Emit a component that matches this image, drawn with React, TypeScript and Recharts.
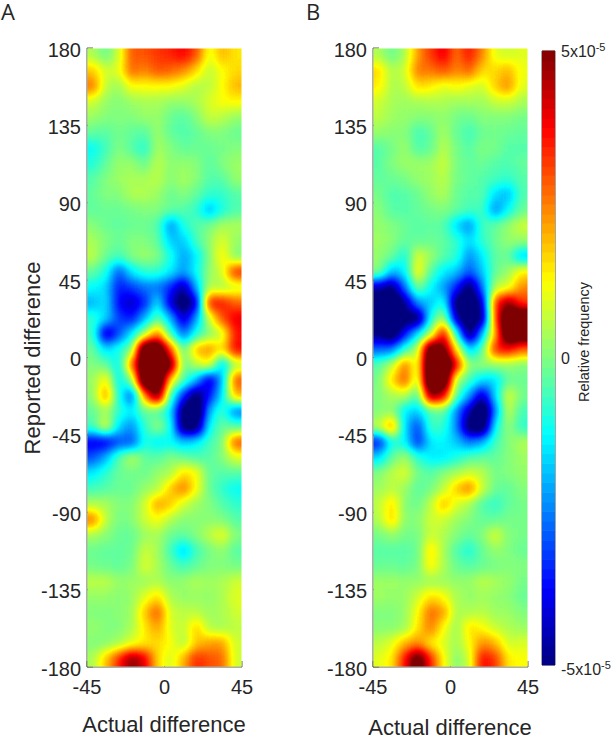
import React from 'react';
import { ScatterChart, Scatter, XAxis, YAxis, ReferenceArea, ReferenceLine } from 'recharts';

const actualCenters = [-41.25, -33.75, -26.25, -18.75, -11.25, -3.75, 3.75, 11.25, 18.75, 26.25, 33.75, 41.25];
const reportedCenters = [175.5, 166.5, 157.5, 148.5, 139.5, 130.5, 121.5, 112.5, 103.5, 94.5, 85.5, 76.5, 67.5, 58.5, 49.5, 40.5, 31.5, 22.5, 13.5, 4.5, -4.5, -13.5, -22.5, -31.5, -40.5, -49.5, -58.5, -67.5, -76.5, -85.5, -94.5, -103.5, -112.5, -121.5, -130.5, -139.5, -148.5, -157.5, -166.5, -175.5];
const xTicks = [-45, 0, 45];
const yTicks = [-180, -135, -90, -45, 0, 45, 90, 135, 180];
const barTicks = [-5, 0, 5];
const barLevels = [-4.92, -4.77, -4.61, -4.45, -4.3, -4.14, -3.98, -3.83, -3.67, -3.52, -3.36, -3.2, -3.05, -2.89, -2.73, -2.58, -2.42, -2.27, -2.11, -1.95, -1.8, -1.64, -1.48, -1.33, -1.17, -1.02, -0.86, -0.7, -0.55, -0.39, -0.23, -0.08, 0.08, 0.23, 0.39, 0.55, 0.7, 0.86, 1.02, 1.17, 1.33, 1.48, 1.64, 1.8, 1.95, 2.11, 2.27, 2.42, 2.58, 2.73, 2.89, 3.05, 3.2, 3.36, 3.52, 3.67, 3.83, 3.98, 4.14, 4.3, 4.45, 4.61, 4.77, 4.92];

const panelA = [
  [0.5, -0.2, 0.8, 2.9, 2.9, 3.2, 3.4, 3.8, 3.0, 1.0, 2.0, 1.5],
  [1.8, 0.8, 1.0, 2.8, 2.4, 3.0, 2.8, 2.4, 1.6, 0.6, 1.2, 1.6],
  [2.6, 0.6, 0.3, 1.2, 1.2, 1.2, 1.2, 0.9, 0.5, 0.6, 1.2, 2.0],
  [0.8, 0.2, 0, 0.3, 0.4, 0.4, 0.2, 0.2, 0.4, 0.9, 1.2, 1.3],
  [0.3, 0, 0, 0, 0.2, 0.3, -0.2, -0.4, 0, 0.7, 0.6, 0.2],
  [-0.3, -0.4, -0.1, -0.3, -0.4, 0.3, -0.3, -0.5, -0.3, 0, 0, -0.2],
  [-1.2, -0.6, 0, -0.4, -0.9, 0.4, 0, -0.3, -0.2, -0.2, -0.1, 0],
  [-0.9, -0.3, 0.3, 0.2, -0.2, 0.6, 0.1, 0.2, 0.1, -0.4, 0, 0.3],
  [-0.4, 0, 0.3, 0.4, 0.4, 0.6, 0, 0.4, 0.1, -0.4, -0.4, 0.2],
  [-0.3, 0, 0, 0.5, 0.5, 0.3, -0.2, 0, -0.3, -0.8, -0.8, -0.4],
  [-0.3, -0.2, -0.2, -0.1, 0, 0, -0.3, -0.4, -0.7, -2.0, -1.0, -0.5],
  [0.1, -0.2, -0.3, -0.2, -0.2, -0.4, -2.4, -1.0, -0.4, -0.1, 0.4, 0.4],
  [0.4, 0, -0.2, 0, 0, -0.3, -1.8, -1.8, -0.6, 0.2, 1.0, 0.2],
  [0.6, -0.2, -0.6, 0, 0.3, 0, -1.0, -2.2, -1.4, 0, 1.4, 0],
  [-0.3, -1.0, -3.0, -1.4, -0.8, -0.8, -1.4, -2.2, -1.2, 0.2, 0.8, 3.4],
  [-1.2, -1.6, -3.6, -3.2, -2.6, -2.6, -3.4, -4.8, -2.0, 0.6, 0.4, 0.8],
  [-2.0, -1.4, -3.8, -4.4, -3.4, -1.4, -4.2, -5.8, -4.2, 3.6, 3.6, 2.8],
  [-0.8, -1.6, -3.2, -3.6, -2.0, -0.3, -2.0, -4.4, -2.2, 0.8, 3.0, 4.0],
  [-0.6, -4.6, -3.0, -1.4, 0.5, 2.6, -0.6, -2.8, -1.0, 0, 0.8, 3.6],
  [-0.2, -1.6, -1.0, 0, 7, 7, 3, -0.4, 2.0, 2.4, 1.4, 3.8],
  [0, -0.2, -1.4, 2.6, 7, 7.5, 5.5, -0.2, 0.6, 1.2, -1.8, 0.5],
  [0.2, 1.5, -1.4, 0, 7, 7.5, 1.5, -0.4, -2.0, -4.4, -2.0, 3.0],
  [0.1, 2.4, -1.0, -3.0, 2.5, 5.5, -0.6, -3.4, -5.5, -3.6, -1.5, 2.0],
  [-0.3, 0.4, -0.8, -1.4, -0.2, -0.4, -1.4, -5.5, -6.5, -2.0, -0.6, -2.6],
  [-0.6, 1.0, -1.6, -2.4, -0.8, 0.2, -1.0, -5.5, -5.5, -1.2, -0.2, -0.4],
  [-4.0, -4.0, -3.0, -3.0, -1.0, -1.4, -1.2, -1.8, -1.4, -0.6, -0.1, 3.0],
  [-3.0, -2.0, -0.4, 0.6, -0.3, -0.4, 0, -0.2, -0.5, -0.4, 0, 0.9],
  [-1.4, -0.8, -0.2, -0.1, -0.2, 0.2, 0.4, 1.6, 1.2, -0.3, -0.4, -0.4],
  [-0.6, -0.4, -0.2, -0.2, 0.2, 0.5, 1.8, 2.6, 1.2, -0.2, -0.8, -1.2],
  [0.5, 0.4, 0, 0, 0.8, 2.2, 1.8, 0.8, 0.3, 0, -0.4, -0.8],
  [2.6, 0.6, -0.1, 0, 0.8, 1.2, 0.5, 0.1, 0.1, 0.1, 0, -0.4],
  [0.4, 0.1, -0.2, -0.3, 0.3, 0.4, -0.2, -0.3, 0, 0.6, 1.1, 0],
  [-0.2, -0.3, -0.3, -0.2, 0.8, 0.4, -0.6, -1.8, -0.6, -0.1, 0.2, -0.4],
  [-0.1, -0.2, -0.3, -0.1, 1.0, 0.4, -0.2, -0.6, -0.3, 0, 0, -0.1],
  [0.6, 0.6, 0.2, 0.3, 0.3, 0.5, 0.1, 0.2, 0.5, 0.3, 0.4, 0.8],
  [0.2, 0.2, 0.1, 0.2, 1.0, 1.6, 0.4, 0.2, 0.2, 0.2, 0.4, 1.0],
  [0, 0, 0.1, 0.3, 1.8, 3.0, 0.8, 0.6, 0.6, 0.3, 0.4, 0.8],
  [0.2, 0, 0, 0.4, 1.4, 2.2, 0.9, 0.6, 1.8, 0.5, 0.4, 0.6],
  [0, 0.1, 0.4, 1.0, 1.4, 1.6, 1.2, 0.5, 1.8, 2.2, 2.2, 0.8],
  [0.4, 1.8, 3.4, 5, 4.0, 1.6, 0.8, 2.0, 3.4, 3.0, 2.8, 0.8],
];

const panelB = [
  [0.5, -0.2, 0.4, 2.2, 3.2, 4.0, 2.6, 3.6, 2.4, 1.0, 0.8, 1.0],
  [1.6, 0.5, 0.8, 2.6, 2.6, 3, 2.4, 2.8, 1.6, 1.6, 2.0, 1.1],
  [1.4, 0.4, 0.6, 1.6, 1.4, 1.0, 1.2, 1.0, 0.7, 1.8, 2.4, 1.0],
  [0.8, 0.4, 0.3, 0.4, 0.5, 0.5, 0.3, 0.4, 0.3, 0.7, 0.8, 0.4],
  [0.6, 0.3, 0.2, 0.1, 0.1, 0.2, -0.1, -0.2, 0.1, 0, 0, -0.1],
  [0.2, 0.1, 0.1, -0.6, -0.3, 0.4, -0.3, -0.6, -0.2, -0.1, -0.2, -0.3],
  [-0.4, -0.1, 0.3, -0.5, -0.3, 0.6, -0.1, -0.4, 0, -0.1, -0.4, -0.4],
  [-0.4, 0, 0.3, 0.3, 0.3, 0.8, -0.1, -0.3, -0.2, -0.4, -0.5, -0.3],
  [-0.3, -0.2, -0.1, 0.2, 0.3, 0.6, -0.1, -0.3, -0.4, -0.6, -0.8, -0.4],
  [-0.1, -0.5, -0.4, -0.2, 0.2, 0.5, -0.2, -0.4, -0.4, -1.6, -2.0, -0.5],
  [0.1, -0.4, -0.4, -0.3, -0.1, 0, -0.3, -0.6, -0.6, -2.4, -1.2, -0.2],
  [0.2, 0, -0.2, -0.4, -0.3, -0.4, -1.6, -2.4, -0.6, -0.3, 0.2, 0.8],
  [0.3, 0.1, -0.3, -0.3, -0.2, -0.3, -0.8, -1.6, -0.8, -0.2, 0.2, 0.2],
  [0.2, -0.2, -1.1, 1.0, 0.3, -0.4, -0.8, -2.4, -1.4, -0.3, -0.2, -1.8],
  [0, -2.0, -1.4, 1.4, -0.4, -1.4, -1.8, -3, -1.8, -0.2, 0.2, 1.4],
  [-4.4, -5.2, -2.6, 0, -1.2, -2.2, -3.4, -5.5, -2.6, 0.6, 0.9, 2.4],
  [-6, -6.5, -4.8, -2.2, -1.8, -0.9, -5.5, -6, -4.4, 3.2, 5, 3.2],
  [-6.5, -6.5, -5.5, -5.5, -1.0, 0.6, -4.5, -6, -5.0, 3, 7, 7],
  [-5, -6, -3.6, -1.5, 0.4, 4.0, -1, -5.5, -2, 2, 7, 6.5],
  [-2.8, -2.6, -0.8, 0.6, 6.5, 5.5, 1.5, -1.8, -0.4, 3.5, 3.8, 2.8],
  [-0.4, 0.6, 2.6, 0.8, 7.5, 7.5, 3.8, 0, 0.2, 0.2, 0.2, 0],
  [-0.1, 1.6, 3.0, 0.4, 7.5, 7, 0.4, -0.6, -1.6, -1.6, -0.2, -0.2],
  [0, 0.4, 0.6, -0.6, 5, 4, -0.4, -2.2, -4.5, -1.6, 1.0, -0.1],
  [0, 0.2, -1.4, -1.8, -0.4, -0.2, -2.4, -4.5, -6.5, -2.4, 0.8, -0.6],
  [0.6, 2.4, -1.6, -3.2, -0.6, -0.8, -2.4, -5.5, -6, -1.2, 0.3, -0.8],
  [-3.6, -1.0, -1.2, -3.4, -1.4, -1.3, -1.8, -2.6, -2, -0.6, 0, 0.5],
  [-1.6, -0.3, 0.4, -0.8, -1.4, -1.4, -1.0, -0.4, -0.3, -0.3, 0, 0.3],
  [0, 0.6, 1.0, -0.1, -0.4, 0.1, 0.4, 0.8, 0.6, -0.1, 0, 0.2],
  [0.3, 0.6, 0.3, -0.4, -0.1, 0.6, 1.8, 2.6, 0.7, -0.2, -0.3, 0],
  [0.6, 1.6, 0.1, -0.2, 0.6, 2.0, 0.9, 0.4, -0.5, -0.8, -0.3, -0.1],
  [0.5, 1.8, 0.1, 0.1, 0.8, 0.8, 0.3, 0, -0.3, -0.3, -0.1, -0.1],
  [-0.1, 0.2, -0.1, -0.1, 0.8, 0.5, 0, -0.3, 0, 0.9, 0, -0.1],
  [-0.4, -0.4, -0.4, -0.2, 1.6, 0.4, -0.5, -1.0, -0.2, 0.2, 0, -0.2],
  [-0.2, -0.2, -0.3, -0.1, 1.4, 0.4, -0.2, -0.4, -0.2, -0.1, 0, 0],
  [0.3, 0.3, 0.2, 0.2, 0.3, 0.3, 0.2, 0.2, 0.6, 0.4, 0.2, -0.1],
  [0.3, 0.2, 0.2, 0.8, 1.6, 1.2, 0.4, 0.2, 0.3, 0.2, 0.1, -0.2],
  [0, 0, 0.2, 1.2, 2.8, 2.2, 0.4, 0.5, 0.6, 0.3, 0.3, 0],
  [0.1, 0.1, 0.3, 1.5, 2.6, 1.2, 0.2, 1.6, 1.2, 0.7, 0.5, 0.3],
  [0.6, 1.0, 2.0, 2.4, 1.4, 0.9, 0.3, 1.2, 2.4, 2.0, 0.8, 0.9],
  [1, 1.4, 3.6, 6, 3.4, 1.2, 0, 0.8, 3.8, 3.2, 1.4, 1.2],
];

const FONT = '"Liberation Sans", Arial, sans-serif';
const INK = '#262626';
const PLOT_W = 155;
const PLOT_H = 619;
const CELL_W = PLOT_W / 12;
const CELL_H = PLOT_H / 40;
const RANGE = 8; // grey encoding spans -RANGE..RANGE so the field may overshoot the ±5 colour limits

const clamp01 = (n: number) => Math.max(0, Math.min(1, n));
const jet = (v: number) => {
  const t = clamp01((v + 5) / 10);
  return [1.5 - Math.abs(4 * t - 3), 1.5 - Math.abs(4 * t - 2), 1.5 - Math.abs(4 * t - 1)].map(clamp01);
};
const grey = (v: number) => {
  const g = Math.round(((v + RANGE) / (2 * RANGE)) * 255);
  return `rgb(${g},${g},${g})`;
};
const tables = (() => {
  const r: string[] = [], g: string[] = [], b: string[] = [];
  for (let i = 0; i < 256; i++) {
    const c = jet((i / 255) * 2 * RANGE - RANGE);
    r.push(c[0].toFixed(4)); g.push(c[1].toFixed(4)); b.push(c[2].toFixed(4));
  }
  return { r: r.join(' '), g: g.join(' '), b: b.join(' ') };
})();

const cellsOf = (m: number[][]) =>
  m.flatMap((row, ri) => row.map((v, ci) => ({ actual: actualCenters[ci], reported: reportedCenters[ri], v, ci, ri })));

const HeatCell = (props: any) => {
  const { cx, cy, payload } = props;
  const { ci, ri, v } = payload;
  const pad = 30;
  const x0 = cx - CELL_W / 2 - (ci === 0 ? pad : 0) - 0.5;
  const x1 = cx + CELL_W / 2 + (ci === 11 ? pad : 0) + 0.5;
  const y0 = cy - CELL_H / 2 - (ri === 0 ? pad : 0) - 0.5;
  const y1 = cy + CELL_H / 2 + (ri === 39 ? pad : 0) + 0.5;
  return <rect x={x0} y={y0} width={x1 - x0} height={y1 - y0} fill={grey(v)} />;
};

const BarCell = (props: any) => {
  const { cx, cy, payload } = props;
  const c = jet(payload.v).map((n: number) => Math.round(n * 255));
  return <rect x={cx - 6.5} y={cy - 5.2} width={13} height={10.4} fill={`rgb(${c[0]},${c[1]},${c[2]})`} />;
};

const BarTick = (props: any) => {
  const { x, y, payload } = props;
  const val = payload.value;
  if (val === 0) return <text x={x - 3} y={y + 6} fontFamily={FONT} fontSize={16} fill={INK}>0</text>;
  const dy = val > 0 ? 6 : 10;
  return (
    <text x={x - 3} y={y + dy} fontFamily={FONT} fontSize={16} fill={INK}>
      {val > 0 ? '5x10' : '-5x10'}
      <tspan dy={-6} fontSize={11}>-5</tspan>
    </text>
  );
};

const Panel = ({ left, data, labelY, xLabelY }: { left: number; data: number[][]; labelY?: boolean; xLabelY: number }) => (
  <div style={{ position: 'absolute', left, top: 0 }} className="heat">
    <ScatterChart width={300} height={737} margin={{ top: 48, right: 58, bottom: 0, left: 0 }}>
      <XAxis
        type="number"
        dataKey="actual"
        domain={[-45, 45]}
        ticks={xTicks}
        interval={0}
        height={70}
        tickSize={-6}
        tickMargin={19}
        stroke="#5a5f55"
        tick={{ fontFamily: FONT, fontSize: 20, fill: INK }}
      />
      <YAxis
        type="number"
        dataKey="reported"
        domain={[-180, 180]}
        ticks={yTicks}
        interval={0}
        width={87}
        tickSize={-6}
        tickMargin={12}
        stroke="#5a5f55"
        tick={{ fontFamily: FONT, fontSize: 20, fill: INK, dy: 1.5 }}
      />
      <Scatter data={cellsOf(data)} shape={HeatCell} isAnimationActive={false} />
      <text x={164} y={xLabelY} textAnchor="middle" fontFamily={FONT} fontSize={22} fill={INK}>Actual difference</text>
      {labelY ? (
        <text transform="translate(40 358) rotate(-90)" textAnchor="middle" fontFamily={FONT} fontSize={22} fill={INK}>Reported difference</text>
      ) : null}
    </ScatterChart>
  </div>
);

const panelTitle = { position: 'absolute', top: 0, height: 24, lineHeight: '22px', fontFamily: '"Open Sans", sans-serif', fontSize: 22, color: INK } as const;

export default function App() {
  return (
    <div style={{ position: 'absolute', left: 0, top: 0, width: 616, height: 737, background: '#fff', overflow: 'hidden' }}>
      <style>{`.heat .recharts-scatter{filter:url(#jetField);clip-path:url(#plotWindow);}`}</style>
      <svg width={0} height={0} style={{ position: 'absolute' }}>
        <defs>
          <filter id="jetField" colorInterpolationFilters="sRGB" filterUnits="userSpaceOnUse" x={0} y={0} width={320} height={737}>
            <feGaussianBlur stdDeviation="5.2 6" />
            <feComponentTransfer>
              <feFuncR type="table" tableValues={tables.r} />
              <feFuncG type="table" tableValues={tables.g} />
              <feFuncB type="table" tableValues={tables.b} />
            </feComponentTransfer>
          </filter>
          <clipPath id="plotWindow" clipPathUnits="userSpaceOnUse">
            <rect x={87.5} y={48.5} width={154} height={618} />
          </clipPath>
        </defs>
      </svg>
      <Panel left={0} data={panelA} labelY xLabelY={732} />
      <Panel left={286} data={panelB} xLabelY={735} />
      <div style={{ position: 'absolute', left: 530, top: 0 }}>
        <ScatterChart width={86} height={737} margin={{ top: 51, right: 0, bottom: 72, left: 12 }}>
          <XAxis type="number" dataKey="b" domain={[0, 1]} hide />
          <YAxis
            type="number"
            dataKey="v"
            orientation="right"
            domain={[-5, 5]}
            ticks={barTicks}
            interval={0}
            width={61}
            tickLine={false}
            tickMargin={3}
            axisLine={false}
            tick={BarTick}
          />
          <Scatter data={barLevels.map((v) => ({ b: 0.5, v }))} shape={BarCell} isAnimationActive={false} />
          <ReferenceArea x1={0} x2={1} y1={-5} y2={5} fill="none" stroke="#4a4f45" strokeWidth={1} />
          <ReferenceLine segment={[{ x: 0.62, y: 0 }, { x: 1, y: 0 }]} stroke="#3a3f38" strokeWidth={1} />
          <text transform="translate(59 342) rotate(-90)" textAnchor="middle" fontFamily={FONT} fontSize={14.5} fill={INK}>Relative frequency</text>
        </ScatterChart>
      </div>
      <div style={{ ...panelTitle, left: 1 }}>A</div>
      <div style={{ ...panelTitle, left: 306 }}>B</div>
    </div>
  );
}
